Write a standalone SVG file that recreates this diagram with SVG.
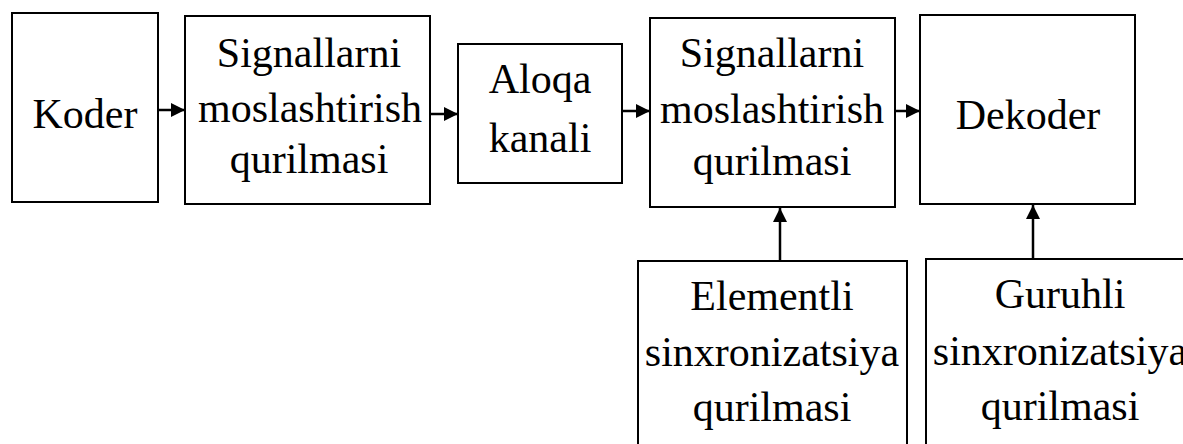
<svg xmlns="http://www.w3.org/2000/svg" width="1183" height="444" viewBox="0 0 1183 444">
<style>
.box{fill:#fff;stroke:#000;stroke-width:2}
.t{font-family:"Liberation Serif","Times New Roman",serif;font-size:42px;fill:#000;text-anchor:middle}
.c{stroke:#000;stroke-width:2.5;fill:none;marker-end:url(#ah)}
</style>
<defs>
<marker id="ah" markerUnits="userSpaceOnUse" markerWidth="15" markerHeight="15" refX="14" refY="7" orient="auto">
<path d="M0,0 L14,7 L0,14 z" fill="#000"/>
</marker>
</defs>
<rect width="1183" height="444" fill="#fff"/>
<g id="koder">
<rect class="box" x="12" y="13" width="146" height="189"/>
<text class="t" x="85" y="128">Koder</text>
</g>
<g id="sig1">
<rect class="box" x="185" y="16" width="245" height="188"/>
<text class="t" x="309" y="67">Signallarni</text>
<text class="t" x="310" y="122">moslashtirish</text>
<text class="t" x="309" y="173">qurilmasi</text>
</g>
<g id="aloqa">
<rect class="box" x="458" y="44" width="164" height="139"/>
<text class="t" x="540" y="93">Aloqa</text>
<text class="t" x="540" y="152">kanali</text>
</g>
<g id="sig2">
<rect class="box" x="650" y="18" width="245" height="189"/>
<text class="t" x="772" y="67">Signallarni</text>
<text class="t" x="772" y="123">moslashtirish</text>
<text class="t" x="772" y="175">qurilmasi</text>
</g>
<g id="dekoder">
<rect class="box" x="920" y="15" width="215" height="189"/>
<text class="t" x="1028" y="129">Dekoder</text>
</g>
<g id="elementli">
<rect class="box" x="638" y="261" width="269" height="200"/>
<text class="t" x="772" y="310">Elementli</text>
<text class="t" x="772" y="366">sinxronizatsiya</text>
<text class="t" x="772" y="421">qurilmasi</text>
</g>
<g id="guruhli">
<rect class="box" x="926" y="259" width="268" height="200"/>
<text class="t" x="1060" y="308">Guruhli</text>
<text class="t" x="1060" y="365">sinxronizatsiya</text>
<text class="t" x="1060" y="420">qurilmasi</text>
</g>
<g id="connectors">
<line class="c" x1="159" y1="110" x2="185" y2="110"/>
<line class="c" x1="431" y1="114" x2="458" y2="114"/>
<line class="c" x1="623" y1="111" x2="650" y2="111"/>
<line class="c" x1="896" y1="111" x2="920" y2="111"/>
<line class="c" x1="780" y1="261" x2="780" y2="208"/>
<line class="c" x1="1033" y1="259" x2="1033" y2="205"/>
</g>
</svg>
